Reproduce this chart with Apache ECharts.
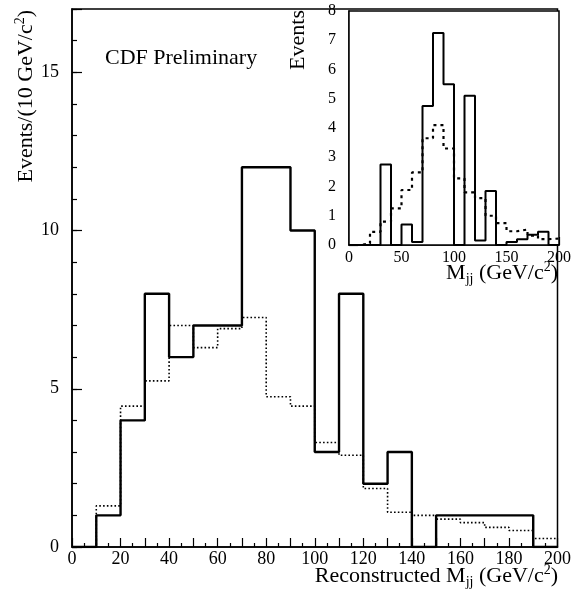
<!DOCTYPE html>
<html><head><meta charset="utf-8">
<script src="https://cdn.jsdelivr.net/npm/echarts@6/dist/echarts.min.js"></script>
<style>html,body{margin:0;padding:0;background:#fff}#c{width:574px;height:599px}</style>
</head><body><div id="c"></div>
<script>
// bin lower edges (GeV/c^2), width 10
const binEdges = [0,10,20,30,40,50,60,70,80,90,100,110,120,130,140,150,160,170,180,190];
const histEnd = 200;
// main plot: data (solid) and expectation (dotted)
const mainSolid  = [0,1,4,8,6,7,7,12,12,10,3,8,2,3,0,1,1,1,1,0];
const mainDotted = [0,1.3,4.45,5.25,7.0,6.3,6.9,7.25,4.75,4.45,3.3,2.9,1.85,1.1,1.0,0.88,0.77,0.62,0.52,0.27];
// inset plot
const insetSolid  = [0,0,0,2.75,0,0.7,0.1,4.75,7.25,5.5,0,5.1,0.15,1.85,0,0.1,0.2,0.35,0.45,0];
const insetDashed = [0,0.05,0.45,0.8,1.25,1.88,2.48,3.65,4.1,3.3,2.28,1.8,1.6,1.0,0.75,0.47,0.53,0.32,0.2,0.22];
// tick labels
const mainYTicks = [0,5,10,15];
const mainXTicks = [0,20,40,60,80,100,120,140,160,180,200];
const insetXTicks = [0,50,100,150,200];
const insetYTicks = [0,1,2,3,4,5,6,7,8];

function steps(vals){
  const d = binEdges.map((e,i)=>[e, vals[i]]);
  d.push([histEnd, vals[vals.length-1]]);
  return d;
}
const FF = 'Liberation Serif';
const chart = echarts.init(document.getElementById('c'));
const tickLbl = (list)=> (v)=> list.indexOf(v) >= 0 ? String(v) : '';

chart.setOption({
  animation:false,
  backgroundColor:'#fff',
  grid:[
    {left:72, right:16, top:9, bottom:52, show:true, borderColor:'#000', borderWidth:1.5, backgroundColor:'transparent'},
    {left:349, right:15, top:11, bottom:354, show:true, borderColor:'#000', borderWidth:1.5, backgroundColor:'#fff', z:5}
  ],
  xAxis:[
    {gridIndex:0, type:'value', min:0, max:200, interval:10,
     axisLine:{lineStyle:{color:'#000', width:1.5}},
     axisTick:{inside:true, length:9, lineStyle:{color:'#000', width:1.2}},
     minorTick:{show:true, splitNumber:2, length:4, lineStyle:{color:'#000', width:1.2}},
     splitLine:{show:false},
     axisLabel:{formatter:tickLbl(mainXTicks), color:'#000', fontFamily:FF, fontSize:18, margin:3}},
    {gridIndex:1, type:'value', min:0, max:200, interval:50,
     axisLine:{lineStyle:{color:'#000', width:1.5}},
     axisTick:{inside:true, length:8, lineStyle:{color:'#000', width:1.2}},
     minorTick:{show:true, splitNumber:5, length:4, lineStyle:{color:'#000', width:1.2}},
     splitLine:{show:false},
     axisLabel:{formatter:tickLbl(insetXTicks), color:'#000', fontFamily:FF, fontSize:16, margin:5}}
  ],
  yAxis:[
    {gridIndex:0, type:'value', position:'left', min:0, max:17, interval:5,
     axisLine:{show:true, lineStyle:{color:'#000', width:1.5}},
     axisTick:{inside:true, length:10, lineStyle:{color:'#000', width:1.2}},
     splitLine:{show:false}, showMaxLabel:false,
     axisLabel:{formatter:tickLbl(mainYTicks), color:'#000', fontFamily:FF, fontSize:18, margin:13}},
    {gridIndex:0, type:'value', position:'left', min:0, max:17, interval:1,
     axisLine:{show:false},
     axisTick:{inside:true, length:5, lineStyle:{color:'#000', width:1.2}},
     splitLine:{show:false}, axisLabel:{show:false}},
    {gridIndex:1, type:'value', position:'left', min:0, max:8, interval:1,
     axisLine:{show:true, lineStyle:{color:'#000', width:1.5}},
     axisTick:{inside:true, length:9, lineStyle:{color:'#000', width:1.2}},
     minorTick:{show:true, splitNumber:5, length:4, lineStyle:{color:'#000', width:1}},
     splitLine:{show:false},
     axisLabel:{formatter:tickLbl(insetYTicks), color:'#000', fontFamily:FF, fontSize:16, margin:13}}
  ],
  series:[
    {type:'line', xAxisIndex:0, yAxisIndex:0, step:'end', symbol:'none', data:steps(mainDotted),
     lineStyle:{color:'#000', width:1.6, type:[1.6,2.2]}, z:2},
    {type:'line', xAxisIndex:0, yAxisIndex:0, step:'end', symbol:'none', data:steps(mainSolid),
     lineStyle:{color:'#000', width:2.4}, z:3},
    {type:'line', xAxisIndex:1, yAxisIndex:2, step:'end', symbol:'none', data:steps(insetDashed),
     lineStyle:{color:'#000', width:2.2, type:[3,4]}, z:6},
    {type:'line', xAxisIndex:1, yAxisIndex:2, step:'end', symbol:'none', data:steps(insetSolid),
     lineStyle:{color:'#000', width:2}, z:7}
  ],
  graphic:[
    {type:'text', left:105, top:47, z:10, style:{text:'CDF Preliminary', fill:'#000', font:'22px "Liberation Serif"'}},
    {type:'text', x:26, y:10, rotation:Math.PI/2, z:10,
     style:{text:'Events/(10 GeV/c{sup|2})', fill:'#000', font:'22px "Liberation Serif"', align:'right', verticalAlign:'middle',
       rich:{sup:{fontSize:14, fontFamily:FF, padding:[0,0,12,0]}}}},
    {type:'text', x:558, y:576, z:10,
     style:{text:'Reconstructed M{sub|jj} (GeV/c{sup|2})', fill:'#000', font:'22px "Liberation Serif"', align:'right', verticalAlign:'middle',
       rich:{sub:{fontSize:14, fontFamily:FF, padding:[12,0,0,0]}, sup:{fontSize:14, fontFamily:FF, padding:[0,0,12,0]}}}},
    {type:'text', x:558, y:273, z:10,
     style:{text:'M{sub|jj} (GeV/c{sup|2})', fill:'#000', font:'22px "Liberation Serif"', align:'right', verticalAlign:'middle',
       rich:{sub:{fontSize:14, fontFamily:FF, padding:[12,0,0,0]}, sup:{fontSize:14, fontFamily:FF, padding:[0,0,12,0]}}}},
    {type:'text', x:298, y:10, rotation:Math.PI/2, z:10,
     style:{text:'Events', fill:'#000', font:'22px "Liberation Serif"', align:'right', verticalAlign:'middle'}}
  ]
});
</script></body></html>
